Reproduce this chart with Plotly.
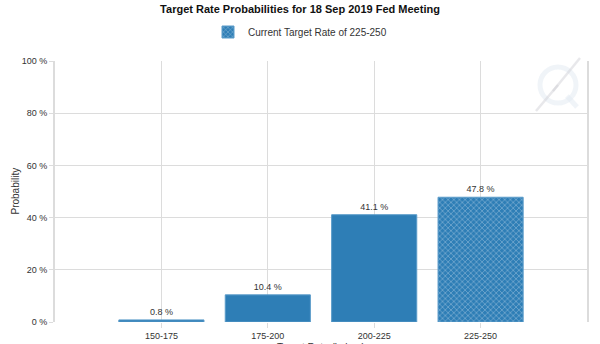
import plotly.graph_objects as go

# Target rate buckets (bps) and their probabilities (%)
categories = ["150-175", "175-200", "200-225", "225-250"]
probabilities = [0.8, 10.4, 41.1, 47.8]
current_range = "225-250"

BLUE = "#2e7eb6"
GRID = "#dcdcdc"
TEXT = "#333333"
FONT = "Liberation Sans, Arial, sans-serif"

positions = list(range(len(categories)))
cur_idx = categories.index(current_range)
other_idx = [i for i in positions if i != cur_idx]

fig = go.Figure()

# Regular bars
fig.add_trace(go.Bar(
    x=[positions[i] for i in other_idx],
    y=[probabilities[i] for i in other_idx],
    text=[f"{probabilities[i]} %" for i in other_idx],
    textposition="outside",
    textfont=dict(size=9, color=TEXT, family=FONT),
    marker=dict(color=BLUE, line=dict(color="#5a9bc9", width=1)),
    width=0.8,
    showlegend=False,
    cliponaxis=False,
    hoverinfo="skip",
))

# Current target range, cross-hatched
fig.add_trace(go.Bar(
    x=[positions[cur_idx]],
    y=[probabilities[cur_idx]],
    text=[f"{probabilities[cur_idx]} %"],
    textposition="outside",
    textfont=dict(size=9, color=TEXT, family=FONT),
    marker=dict(
        color=BLUE,
        line=dict(color="#5a9bc9", width=1),
        pattern=dict(shape="x", fgcolor="white", bgcolor=BLUE, size=4, solidity=0.25),
    ),
    width=0.8,
    name=f"Current Target Rate of {current_range}",
    cliponaxis=False,
    hoverinfo="skip",
))

# Pixel helpers for the fixed plot area
W, H = 600, 344
L, R, T, B = 55, 13, 61, 22
pw, ph = W - L - R, H - T - B


def px(x):
    return (x - L) / pw


def py(y):
    return (H - B - y) / ph


# Faint logo mark in the upper-right corner
RING = "rgba(228,235,243,0.55)"
BOLT = "rgba(210,210,215,0.5)"
fig.add_shape(type="line", xref="paper", yref="paper",
              x0=px(567), y0=py(96), x1=px(577), y1=py(107),
              line=dict(color=RING, width=5), layer="below")
fig.add_shape(type="circle", xref="paper", yref="paper",
              x0=px(540), x1=px(576), y0=py(103), y1=py(67),
              line=dict(color=RING, width=5), layer="below")
fig.add_shape(type="line", xref="paper", yref="paper",
              x0=px(536), y0=py(111), x1=px(558), y1=py(85),
              line=dict(color=BOLT, width=2.5), layer="below")
fig.add_shape(type="line", xref="paper", yref="paper",
              x0=px(553), y0=py(91), x1=px(580), y1=py(58),
              line=dict(color=BOLT, width=2.5), layer="below")

fig.update_layout(
    width=W, height=H,
    margin=dict(l=L, r=R, t=T, b=B, autoexpand=False),
    paper_bgcolor="white", plot_bgcolor="white",
    barmode="overlay",
    font=dict(family=FONT, size=9, color=TEXT),
    title=dict(text="<b>Target Rate Probabilities for 18 Sep 2019 Fed Meeting</b>",
               x=0.5, xanchor="center", y=1 - 9 / H, yanchor="middle",
               font=dict(size=11, color="#111111", family=FONT)),
    legend=dict(orientation="h", xref="container", yref="container",
                x=0.5, xanchor="center", y=1 - 32 / H, yanchor="middle",
                font=dict(size=10, color=TEXT, family=FONT),
                bgcolor="rgba(0,0,0,0)"),
    xaxis=dict(
        range=[-1, 4], tickvals=positions, ticktext=categories,
        showgrid=True, gridcolor=GRID, gridwidth=1,
        ticks="outside", ticklen=5, tickcolor=GRID,
        showline=False, zeroline=False, automargin=False,
        tickfont=dict(size=9, color=TEXT),
    ),
    yaxis=dict(
        range=[0, 100], tickvals=[0, 20, 40, 60, 80, 100],
        ticktext=["0 %", "20 %", "40 %", "60 %", "80 %", "100 %"],
        showgrid=True, gridcolor=GRID, gridwidth=1,
        ticks="outside", ticklen=4, tickcolor=GRID,
        showline=True, linecolor=GRID, linewidth=2, mirror=True,
        zeroline=False, automargin=False,
        tickfont=dict(size=9, color=TEXT),
    ),
    annotations=[
        dict(text="Target Rate (in bps)", xref="paper", yref="paper",
             x=0.5, y=py(340), xanchor="center", yanchor="top", showarrow=False,
             font=dict(size=10, color=TEXT, family=FONT)),
        dict(text="Probability", xref="paper", yref="paper",
             x=px(15), y=0.5, xanchor="center", yanchor="middle", textangle=-90,
             showarrow=False, font=dict(size=10, color=TEXT, family=FONT)),
    ],
)

fig.write_html("out.html")
